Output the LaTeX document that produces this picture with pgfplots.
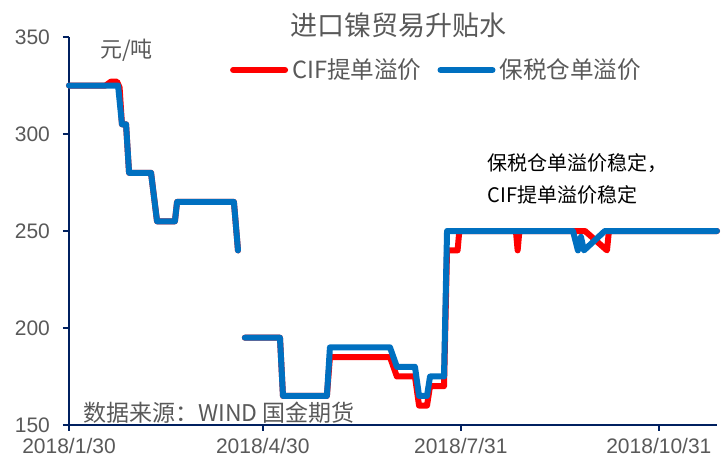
\documentclass[border=0pt]{standalone}
\usepackage{fontspec}
\usepackage{pgfplots}
\pgfplotsset{compat=1.18}
\setmainfont{Liberation Sans}
\newfontfamily\cjk{Noto Sans CJK SC}
\definecolor{cifred}{RGB}{255,0,0}
\definecolor{bondblue}{RGB}{0,112,192}
\definecolor{axisnavy}{RGB}{0,32,96}
\definecolor{txtgray}{RGB}{89,89,89}

\begin{document}
\begin{tikzpicture}
\path[use as bounding box] (-34.5pt,-15.5pt) rectangle (328pt,212.5pt);
\begin{axis}[
  at={(0,0)}, anchor=south west,
  scale only axis, width=324pt, height=194pt,
  xmin=0, xmax=301, ymin=150, ymax=350,
  axis x line*=bottom, axis y line*=left,
  axis line style={axisnavy, line width=1.2pt},
  tick align=outside, major tick length=3pt,
  tick style={axisnavy, line width=1pt},
  ytick={150,200,250,300,350},
  xtick={0,90,182,274},
  xticklabels={2018/1/30,2018/4/30,2018/7/31,2018/10/31},
  /pgf/number format/assume math mode=true,
  ticklabel style={font=\fontsize{10.5}{12}\selectfont, text=txtgray},
  yticklabel style={xshift=-3pt},
  unbounded coords=jump,
  clip=false,
  legend columns=2,
  legend style={draw=none, fill=none, at={(0.248,0.915)}, anchor=west,
    inner sep=0pt, font=\cjk\fontsize{11.8}{13}\selectfont, text=txtgray,
    /tikz/every even column/.append style={column sep=6pt}},
  legend image code/.code={\draw[#1, line cap=round] (0pt,0pt) -- (26pt,0pt);},
]
% CIF bill of lading premium
\addplot[cifred, line width=3pt, line join=round, line cap=round] coordinates {
  (0,325) (17,325) (19.5,327) (22.3,327) (23.5,324) (24.6,305) (26.5,305)
  (27.9,280) (38.1,280) (40.9,255) (49.2,255) (50.2,265) (76.6,265) (78.5,240)
  (80,nan)
  (81.7,195) (98,195) (99.4,165) (119.8,165) (121.2,185) (149.1,185)
  (152.3,175) (160.7,175) (162.6,160) (166.3,160) (167.7,170) (174.2,170)
  (175.6,240) (180.5,240) (181.3,250) (207.6,250) (208.4,240) (209.2,250)
  (239.7,250) (249.9,240) (250.8,250) (301,250)
};
\addlegendentry{CIF提单溢价}
% bonded warehouse premium
\addplot[bondblue, line width=3pt, line join=round, line cap=round] coordinates {
  (0,325) (22.8,325) (24.6,305) (26.5,305) (27.9,280) (38.1,280) (40.9,255)
  (49.2,255) (50.2,265) (76.6,265) (78.5,240)
  (80,nan)
  (81.7,195) (98,195) (99.4,165) (119.8,165) (121.2,190) (149.1,190)
  (152.3,180) (160.7,180) (162.6,165) (166.3,165) (167.7,175) (174.2,175)
  (175.6,250) (234.1,250) (236.4,240) (237.8,247) (239.2,240) (248.9,250)
  (301,250)
};
\addlegendentry{保税仓单溢价}
\end{axis}
\node[text=txtgray, font=\cjk\fontsize{13.5}{15}\selectfont] at (165pt,200pt) {进口镍贸易升贴水};
\node[anchor=west, text=txtgray, font=\cjk\fontsize{11}{13}\selectfont] at (12pt,187.5pt) {元/吨};
\node[anchor=west, text=black, font=\cjk\fontsize{10}{12}\selectfont, inner sep=0pt] at (209pt,131pt) {保税仓单溢价稳定，};
\node[anchor=west, text=black, font=\cjk\fontsize{10}{12}\selectfont, inner sep=0pt] at (209pt,115pt) {CIF提单溢价稳定};
\node[anchor=west, text=txtgray, font=\cjk\fontsize{11.5}{13}\selectfont, inner sep=0pt] at (7pt,6pt) {数据来源：WIND 国金期货};
\end{tikzpicture}
\end{document}
